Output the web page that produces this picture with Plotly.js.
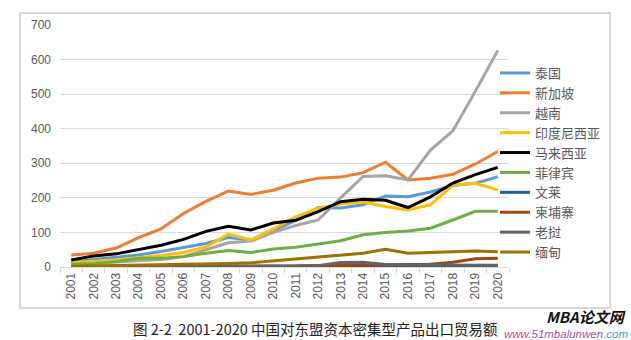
<!DOCTYPE html>
<html>
<head>
<meta charset="utf-8">
<script src="https://cdn.plot.ly/plotly-3.0.1.min.js"></script>
<style>
html,body{margin:0;padding:0;background:#fff;}
#chart{width:631px;height:340px;}
</style>
</head>
<body>
<div id="chart"></div>
<script>
const years = ["2001","2002","2003","2004","2005","2006","2007","2008","2009","2010","2011","2012","2013","2014","2015","2016","2017","2018","2019","2020"];
const seriesNames = ["泰国","新加坡","越南","印度尼西亚","马来西亚","菲律宾","文莱","柬埔寨","老挝","缅甸"];
const thailand    = [12,22,28,35,45,57,68,85,78,105,135,172,171,180,205,203,217,236,242,261];
const singapore   = [35,40,55,85,110,155,190,220,210,222,243,257,260,273,303,252,257,268,298,334];
const vietnam     = [8,12,15,18,22,30,50,70,75,100,120,136,200,262,264,252,338,394,508,626];
const indonesia   = [12,15,20,27,33,42,58,95,78,110,145,170,182,188,175,165,180,237,242,223];
const malaysia    = [20,32,38,50,63,80,103,118,107,127,135,160,189,196,193,172,203,243,267,288];
const philippines = [8,10,15,25,25,30,40,48,42,52,57,66,76,93,100,104,112,136,161,161];
const brunei      = [1,1,1,1,1,1,1,1,1,1,1,1,2,2,2,2,2,2,3,3];
const cambodia    = [1,1,1,1,1,2,2,2,2,3,3,4,5,5,5,6,8,14,24,25];
const laos        = [0,0,0,0,0,0,1,1,1,1,2,4,13,14,7,6,6,5,5,5];
const myanmar     = [2,3,4,5,5,6,8,10,12,18,24,29,35,40,51,40,42,43,46,44];
const seriesValues = [thailand,singapore,vietnam,indonesia,malaysia,philippines,brunei,cambodia,laos,myanmar];
const seriesColors = ["#5B9BD5","#ED7D31","#A5A5A5","#FFC000","#000000","#70AD47","#255E91","#9E480E","#636363","#997300"];
const yTicks = [0,100,200,300,400,500,600,700];
const captionText = "图 2-2  2001-2020 中国对东盟资本密集型产品出口贸易额";

const traces = seriesNames.map((n,i)=>({
  type:'scatter', mode:'lines', name:n, x:years, y:seriesValues[i],
  line:{color:seriesColors[i], width:3}
}));

const L=60, R=509, T=25, B=267, W=631, H=340;
const pw=R-L, ph=B-T;
const px=v=>(v-L)/pw, py=v=>(B-v)/ph;

const layout = {
  width:W, height:H,
  margin:{l:L, r:W-R, t:T, b:H-B, pad:0},
  paper_bgcolor:'#fff', plot_bgcolor:'#fff',
  showlegend:true,
  font:{family:'"Liberation Sans", Arial, sans-serif', color:'#595959', size:12},
  xaxis:{
    type:'category', range:[-0.5,19.5], tickangle:-90,
    showgrid:false, showline:true, linecolor:'#d9d9d9', linewidth:1,
    ticks:'outside', tickson:'boundaries', ticklen:5, tickcolor:'#d9d9d9',
    tickfont:{size:12, color:'#595959'}, fixedrange:true
  },
  yaxis:{
    range:[0,700], tickvals:yTicks, showgrid:true, gridcolor:'#d9d9d9', gridwidth:1,
    zeroline:false, showline:false, ticks:'', ticklabelstandoff:8,
    tickfont:{size:12, color:'#595959'}, fixedrange:true
  },
  legend:{
    x:px(495), y:py(58), xanchor:'left', yanchor:'top',
    font:{family:'"Noto Sans CJK SC", sans-serif', size:13, color:'#595959'},
    bgcolor:'rgba(0,0,0,0)', borderwidth:0, itemwidth:30, tracegroupgap:0
  },
  shapes:[
    {type:'rect', xref:'paper', yref:'paper', x0:px(20), x1:px(610), y0:py(308), y1:py(13),
     line:{color:'#cccccc', width:1.5}, fillcolor:'rgba(0,0,0,0)', layer:'above'}
  ],
  annotations:[
    {xref:'paper', yref:'paper', x:px(315), y:py(328), xanchor:'center', yanchor:'middle',
     text:captionText, showarrow:false,
     font:{family:'"Noto Sans CJK SC", sans-serif', size:14.5, color:'#222'}},
    {xref:'paper', yref:'paper', x:px(628), y:py(316.5), xanchor:'right', yanchor:'middle',
     text:'<b><i>MBA论文网</i></b>', showarrow:false,
     font:{family:'"Noto Sans CJK SC", sans-serif', size:15, color:'#111'}},
    {xref:'paper', yref:'paper', x:px(630), y:py(333.5), xanchor:'right', yanchor:'middle',
     text:'<i><span style="color:#e0409a">www.</span><span style="color:#9b54b8">51mbalunwen</span><span style="color:#3aa6c4">.com</span></i>', showarrow:false,
     font:{family:'"Liberation Sans", Arial, sans-serif', size:11.5, color:'#9b54b8'}}
  ]
};

Plotly.newPlot('chart', traces, layout, {displayModeBar:false, staticPlot:true});
</script>
</body>
</html>
